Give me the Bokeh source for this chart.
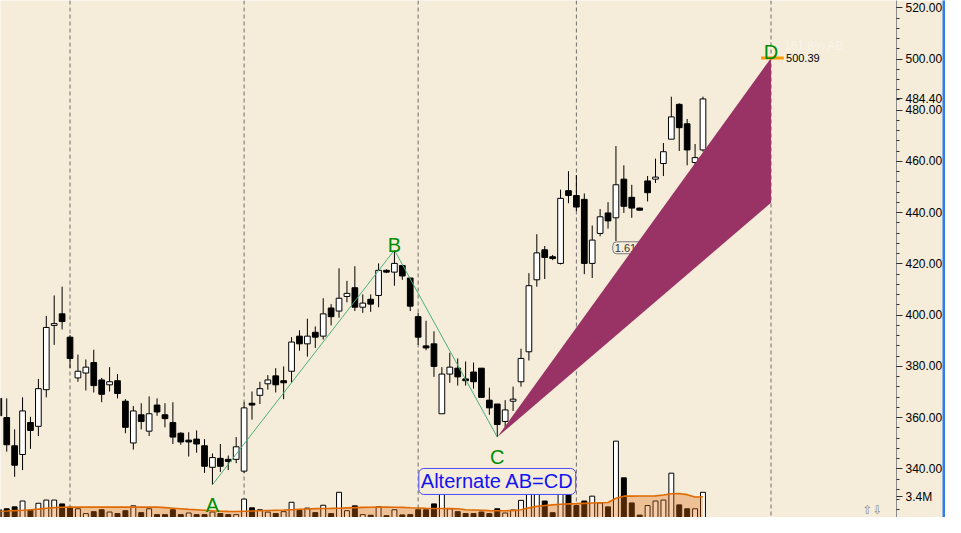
from bokeh.plotting import figure
from bokeh.models import (Range1d, LinearAxis, FixedTicker, NumeralTickFormatter,
                          Span, Label, ColumnDataSource)
from bokeh.embed import file_html
from bokeh.resources import INLINE

BG = "#F5ECDA"

# ---------------- data ----------------
bar_index = list(range(1, 91))

open_ = [367.5, 360.0, 349.0, 345.6, 358.1, 356.6, 370.9, 396.0, 400.5, 391.4,
         375.5, 377.4, 381.5, 374.7, 372.8, 374.4, 366.4, 350.1, 361.1, 354.7,
         364.9, 361.1, 358.1, 353.9, 351.2, 351.6, 349.0, 340.6, 344.1, 343.7,
         343.7, 339.1, 365.6, 368.7, 373.2, 376.3, 374.4, 378.1, 391.8, 388.8,
         393.3, 391.8, 402.8, 401.6, 407.3, 410.7, 403.1, 406.2, 407.7, 417.5,
         416.8, 419.4, 414.5, 399.4, 388.0, 388.8, 361.5, 377.0, 379.3, 375.1,
         377.8, 379.3, 366.8, 365.3, 358.5, 366.4, 374.0, 385.7, 413.8, 425.5,
         422.8, 420.2, 448.6, 446.7, 445.2, 420.2, 431.9, 439.9, 438.0, 453.1,
         446.0, 441.8, 452.4, 453.1, 459.2, 468.7, 482.3, 474.7, 459.6, 464.5]
high = [369.4, 367.5, 355.4, 367.9, 360.3, 375.1, 399.7, 407.7, 411.1, 392.2,
        384.6, 382.7, 386.5, 375.5, 379.7, 377.0, 367.2, 364.5, 365.6, 368.3,
        367.5, 365.6, 366.0, 354.3, 354.3, 355.0, 351.6, 346.0, 349.7, 345.2,
        352.4, 366.0, 370.2, 374.0, 376.6, 379.3, 380.0, 391.4, 394.1, 398.6,
        395.6, 406.6, 404.3, 418.3, 413.4, 419.1, 408.1, 408.1, 420.2, 417.9,
        425.4, 419.4, 414.5, 400.9, 397.8, 393.7, 379.7, 385.3, 383.1, 381.9,
        381.5, 379.3, 371.7, 365.3, 366.8, 372.1, 386.9, 416.4, 431.6, 427.0,
        423.5, 449.0, 456.2, 454.7, 447.5, 435.0, 441.4, 444.1, 466.0, 458.5,
        450.9, 442.0, 454.3, 461.1, 467.2, 485.3, 482.7, 476.6, 466.8, 485.3]
low = [358.1, 346.7, 336.9, 339.5, 347.8, 352.8, 367.9, 388.4, 394.4, 379.3,
       374.0, 370.6, 369.8, 366.0, 370.2, 367.5, 353.9, 347.5, 355.4, 352.8,
       360.7, 356.2, 349.7, 349.4, 344.8, 346.3, 338.4, 333.8, 338.8, 339.5,
       342.2, 338.4, 359.2, 365.3, 370.9, 369.8, 367.2, 373.6, 386.1, 383.8,
       387.2, 390.5, 396.0, 399.0, 405.0, 401.6, 400.9, 401.3, 403.1, 416.4,
       411.5, 413.8, 401.6, 388.4, 386.3, 375.9, 361.5, 373.6, 372.5, 372.5,
       371.3, 367.9, 361.1, 352.4, 356.2, 362.6, 372.1, 382.3, 411.1, 414.1,
       421.5, 419.8, 443.7, 440.6, 416.0, 414.5, 430.8, 433.8, 428.9, 439.9,
       438.0, 440.8, 444.4, 451.6, 454.3, 468.7, 464.1, 458.5, 458.5, 463.8]
close = [360.7, 349.4, 341.4, 362.6, 355.0, 371.3, 395.2, 396.7, 397.5, 383.1,
         378.1, 379.7, 372.5, 369.1, 374.0, 369.4, 356.2, 362.6, 358.5, 361.5,
         362.2, 359.6, 352.4, 350.5, 350.5, 349.7, 341.0, 344.4, 341.0, 342.9,
         348.6, 363.8, 364.9, 371.3, 374.7, 372.8, 373.6, 389.5, 388.8, 391.8,
         391.4, 400.5, 399.4, 406.6, 408.5, 403.1, 404.7, 404.3, 417.5, 416.8,
         420.2, 415.3, 403.5, 391.4, 387.2, 380.0, 377.0, 379.7, 375.9, 374.4,
         374.0, 367.9, 363.8, 357.3, 363.0, 367.2, 383.1, 411.5, 424.3, 422.5,
         422.1, 445.6, 446.7, 442.2, 420.2, 429.3, 438.4, 436.8, 450.9, 442.5,
         441.8, 441.0, 447.8, 453.9, 463.8, 477.4, 473.2, 464.5, 461.5, 484.4]

# volume in millions and whether its bar is drawn hollow (up) or filled (down)
volume = [1.30, 1.45, 1.77, 2.74, 1.20, 2.37, 2.90, 2.90, 2.26, 1.72,
          1.45, 0.65, 0.97, 1.29, 0.91, 0.65, 1.13, 1.94, 0.81, 1.45,
          0.48, 0.48, 1.29, 0.48, 0.75, 0.48, 0.48, 0.91, 0.65, 0.48,
          0.48, 3.06, 1.61, 1.29, 0.90, 0.65, 0.97, 2.53, 1.18, 1.56,
          0.81, 2.04, 0.65, 4.19, 1.13, 1.94, 0.48, 0.38, 1.77, 0.30,
          1.29, 0.43, 0.48, 1.29, 1.29, 2.26, 3.98, 1.45, 0.97, 0.65,
          0.65, 0.91, 0.65, 1.45, 0.75, 1.24, 2.85, 6.00, 5.60, 2.74,
          0.80, 5.20, 3.87, 1.99, 2.74, 3.55, 2.42, 1.77, 12.70, 6.60,
          2.42, 0.40, 1.99, 2.74, 2.90, 7.37, 2.10, 1.45, 1.45, 4.19]
vol_up = [0, 0, 0, 1, 0, 1, 1, 1, 0, 0,
          1, 1, 0, 0, 1, 0, 0, 1, 0, 1,
          0, 0, 0, 0, 1, 0, 0, 1, 0, 0,
          1, 1, 0, 1, 1, 0, 1, 1, 0, 1,
          0, 1, 0, 1, 1, 0, 1, 0, 1, 0,
          1, 0, 0, 0, 0, 0, 1, 1, 0, 0,
          0, 0, 0, 0, 1, 1, 1, 1, 1, 0,
          0, 1, 0, 0, 0, 1, 1, 0, 1, 0,
          0, 0, 1, 1, 1, 1, 0, 0, 1, 1]
vol_ma = [1.02, 1.08, 1.15, 1.20, 1.28, 1.40, 1.55, 1.65, 1.70, 1.72,
          1.72, 1.72, 1.72, 1.72, 1.72, 1.72, 1.72, 1.72, 1.72, 1.72,
          1.72, 1.65, 1.55, 1.45, 1.35, 1.28, 1.20, 1.12, 1.06, 1.02,
          1.00, 1.04, 1.08, 1.12, 1.16, 1.20, 1.24, 1.30, 1.36, 1.42,
          1.47, 1.50, 1.52, 1.55, 1.60, 1.64, 1.68, 1.70, 1.72, 1.72,
          1.70, 1.68, 1.62, 1.58, 1.52, 1.50, 1.50, 1.48, 1.45, 1.30,
          1.25, 1.20, 1.15, 1.13, 1.13, 1.15, 1.30, 1.60, 1.85, 2.00,
          2.10, 2.20, 2.26, 2.30, 2.35, 2.40, 2.45, 2.50, 3.20, 3.55,
          3.56, 3.57, 3.58, 3.60, 3.75, 3.95, 3.98, 3.80, 3.40, 3.44]

month_starts = [10, 32, 54, 74, 98.6]

# AB=CD pattern
A_idx, B_idx, C_idx, D_idx = 28, 51, 64, 98.6
A_price, B_price, C_price = 333.8, 425.4, 352.4
D_price = 500.39
cd_ratio = 1.618
last_price = 484.40

price_major = [340, 360, 380, 400, 420, 440, 460, 480, 500, 520]
price_minor = list(range(324, 524, 4))

# ---------------- figure ----------------
y_lo, y_hi = 321.0, 522.84
vol_top = 86.0
p = figure(width=945, height=517, title=None,
           x_range=Range1d(1.2125, 114.46), y_range=Range1d(y_lo, y_hi),
           x_axis_location=None, y_axis_location="right",
           toolbar_location=None, output_backend="svg",
           min_border_left=0, min_border_top=0, min_border_bottom=0, min_border_right=0)
p.background_fill_color = BG
p.border_fill_color = BG
p.outline_line_color = None
p.grid.visible = False
p.extra_y_ranges = {"vol": Range1d(0, vol_top)}

# the last price and the volume-average tag ride on the price axis
vol_tag_y = y_lo + vol_ma[-1] / vol_top * (y_hi - y_lo)
ax = p.yaxis[0]
ax.ticker = FixedTicker(ticks=price_major + [last_price, vol_tag_y], minor_ticks=price_minor)
ax.formatter = NumeralTickFormatter(format="0.00")
ax.major_label_overrides = {vol_tag_y: "%.1fM" % vol_ma[-1]}
ax.axis_line_color = "#8C8C8C"
ax.major_tick_line_color = "#303030"
ax.minor_tick_line_color = "#303030"
ax.major_tick_out = 6
ax.major_tick_in = 0
ax.minor_tick_out = 3
ax.minor_tick_in = 0
ax.major_label_standoff = 3
ax.major_label_text_font = "Liberation Sans"
ax.major_label_text_font_size = "12px"
ax.major_label_text_color = "#000000"

edge = LinearAxis(ticker=FixedTicker(ticks=[]), axis_line_color="#2F7FE8", axis_line_width=6,
                  major_tick_out=0, major_tick_in=0, minor_tick_out=0, minor_tick_in=0,
                  major_label_text_font_size="0px", major_label_standoff=0)
p.add_layout(edge, "right")

# month separators
for m in month_starts:
    p.add_layout(Span(location=m, dimension="height", line_color="#6E6E6E",
                      line_dash="4 3", line_width=1, level="underlay"))

# volume
vsrc = ColumnDataSource(dict(x=bar_index, v=volume,
                             fill=["white" if u else "black" for u in vol_up]))
p.vbar(x="x", width=0.62, top="v", bottom=0, fill_color="fill", line_color="black",
       line_width=1, y_range_name="vol", source=vsrc)
p.varea(x=bar_index, y1=[0] * len(vol_ma), y2=vol_ma, fill_color="#DE6F12", fill_alpha=0.34,
        y_range_name="vol")
p.line(bar_index, vol_ma, line_color="#E06A00", line_width=1.6, y_range_name="vol")

# 1.618 tag partially hidden under the projection wedge
p.add_layout(Label(x=78.6, y=426.3, text="1.618", text_align="left", text_baseline="middle",
                   text_font="Liberation Sans", text_font_size="11px", text_color="#333333",
                   background_fill_color=BG, border_line_color="#7A7A7A", border_radius=4,
                   padding=2, level="underlay"))

# candles
csrc = ColumnDataSource(dict(
    x=bar_index, high=high, low=low,
    top=[max(o, c) for o, c in zip(open_, close)],
    bottom=[min(o, c) for o, c in zip(open_, close)],
    fill=["white" if c >= o else "black" for o, c in zip(open_, close)]))
p.segment(x0="x", y0="low", x1="x", y1="high", line_color="black", line_width=1, source=csrc)
p.vbar(x="x", width=0.72, top="top", bottom="bottom", fill_color="fill",
       line_color="black", line_width=1, source=csrc)

# pattern legs
p.line([A_idx, B_idx, C_idx], [A_price, B_price, C_price], line_color="#4CAF7D", line_width=1)
lower_target = C_price + (D_price - C_price) / cd_ratio
p.patch([C_idx, D_idx, D_idx], [C_price, D_price, lower_target],
        fill_color="#993366", line_color=None)
p.segment(x0=[D_idx - 1.25], y0=[D_price], x1=[D_idx + 1.6], y1=[D_price],
          line_color="#FF9A00", line_width=3)

green = "#008C00"
for x, y, t, off in [(A_idx, A_price, "A", -20), (B_idx, B_price, "B", 5),
                     (C_idx, C_price, "C", -20), (D_idx, D_price, "D", 6)]:
    p.add_layout(Label(x=x, y=y, text=t, text_align="center", text_baseline="alphabetic",
                       y_offset=off, text_font="Liberation Sans", text_font_size="20px",
                       text_color=green))

p.add_layout(Label(x=D_idx, y=D_price, x_offset=15, text="500.39", text_align="left",
                   text_baseline="middle", text_font="Liberation Sans", text_font_size="11px",
                   text_color="#000000"))
p.add_layout(Label(x=D_idx, y=D_price, x_offset=13, y_offset=12, text="161.8% AB",
                   text_align="left", text_baseline="middle", text_font="Liberation Sans",
                   text_font_size="12px", text_color="#FFFFFF", text_alpha=0.45))

p.add_layout(Label(x=C_idx, y=337.8, y_offset=-7, text="Alternate AB=CD", text_align="center",
                   text_baseline="middle", text_font="Liberation Sans", text_font_size="20px",
                   text_color="#1414F0", background_fill_color=BG,
                   border_line_color="#4A4AFF", border_line_width=1, border_radius=5,
                   padding=2))

p.add_layout(Label(x=862, y=8, x_units="screen", y_units="screen", text="⇧⇩",
                   text_align="left", text_baseline="middle", text_font="DejaVu Sans",
                   text_font_size="12px", text_color="#8A8A8A"))

open("out.html", "w").write(file_html(p, INLINE))
